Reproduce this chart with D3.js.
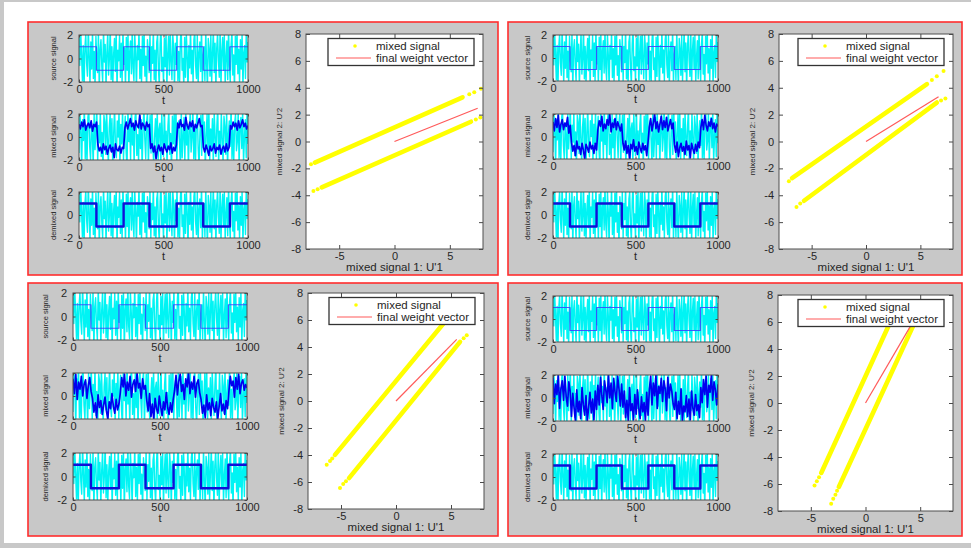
<!DOCTYPE html>
<html>
<head>
<meta charset="utf-8">
<script src="https://cdn.jsdelivr.net/npm/d3@7"></script>
<style>
html, body { margin: 0; padding: 0; background: #fff; }
svg { display: block; }
text { font-family: "Liberation Sans", Arial, Helvetica, sans-serif; fill: #262626; }
</style>
</head>
<body>
<script>
// ---- axis ticks and labels ----
const tTicks = [0, 500, 1000];
const ampTicks = [-2, 0, 2];
const uTicksX = [-5, 0, 5];
const uTicksY = [-8, -6, -4, -2, 0, 2, 4, 6, 8];
const rowLabels = ["source signal", "mixed signal", "demixed signal"];

// ---- square-wave source: switching times and levels ----
const squareEdges = [0, 103, 264, 417, 578, 735, 893];
const squareLevels = [1, -1, 1, -1, 1, -1, 1];

// ---- noise source (cyan), sampled evenly over t = 0..1000 ----
const noiseSource = [
  1.8, -0.6, 2.4, 0.3, -1.9, 1.1, -2.6, 0.9, 2.1, -0.4, -1.5, 2.7, 0.2, -2.2, 1.4, -0.9, 2.5, -1.7, 0.6, -2.4,
  1.9, 0.1, -1.2, 2.3, -2.8, 0.8, 1.6, -0.7, -2.0, 2.6, -0.3, 1.2, -2.5, 0.5, 2.2, -1.4, 0.0, 2.8, -1.8, 1.0,
  -2.3, 0.4, 1.7, -1.1, 2.4, -2.7, 0.7, -0.2, 2.0, -1.6, 1.3, -2.1, 2.6, -0.5, 0.9, -2.4, 1.8, -1.0, 2.3, -2.9,
  0.6, 1.5, -1.3, 2.7, -0.8, -1.9, 2.1, 0.3, -2.6, 1.1, -0.1, 2.5, -1.7, 0.8, -2.2, 1.9, -0.6, 2.4, -1.5, 0.2,
  -2.8, 1.6, 0.5, -1.2, 2.2, -2.0, 1.0, -0.4, 2.6, -1.8, 0.7, -2.5, 1.4, 2.0, -0.9, -2.3, 1.2, 2.8, -1.1, 0.1,
  -2.1, 1.7, -0.7, 2.3, -2.6, 0.4, 1.9, -1.4, 2.5, -0.3, -1.8, 2.1, 0.9, -2.7, 1.3, -0.5, 2.4, -1.9, 0.6, -2.2,
  1.5, 2.7, -1.0, 0.0, -2.4, 1.8, -1.6, 2.2, 0.3, -2.9, 1.1, -0.8, 2.6, -1.3, 0.7, -2.0, 1.6, 2.3, -0.6, -1.7,
  2.0, -2.5, 0.5, 1.4, -1.1, 2.8, -2.3, 0.2, 1.0, -1.9, 2.4, -0.4, -2.6, 1.7, 0.8, -1.5, 2.1, -2.1, 0.4, 2.5,
  -1.2, 1.3, -2.8, 0.9, 2.2, -0.2, -1.6, 2.6, -2.4, 0.6, 1.8, -1.0, 2.0, -2.2, 0.1, 1.5, -1.8, 2.7, -0.7, -2.0,
  1.2, 2.3, -1.4, 0.3, -2.7, 1.9, -0.5, 2.4, -1.3, 0.8, -2.1, 1.6, -0.9, 2.2, -2.5, 0.5, 1.1, -1.7, 2.6, -0.3, 1.4
];

// ---- second mixture channel (cyan in the mixed plots) ----
const noiseMixed = [
  -1.4, 2.2, 0.6, -2.7, 1.5, -0.3, 2.8, -1.9, 0.9, -2.3, 1.7, 2.4, -0.8, -2.0, 1.2, 0.2, -2.6, 2.1, -1.1, 0.7,
  2.6, -2.2, 1.0, -0.5, 2.3, -1.7, 0.4, -2.8, 1.9, 1.3, -1.5, 2.5, -0.1, -2.4, 0.8, 2.0, -1.2, 1.6, -2.9, 0.3,
  2.7, -0.9, -1.8, 1.4, 0.0, 2.2, -2.5, 1.1, -0.6, 2.4, -2.0, 0.5, 1.8, -1.3, -2.7, 2.6, -0.4, 1.0, -2.1, 2.9,
  -0.7, 0.9, -2.4, 1.7, 2.3, -1.6, 0.2, -2.2, 2.0, -1.0, 1.5, -2.8, 0.6, 2.5, -0.2, -1.9, 1.3, 2.1, -2.6, 0.4,
  1.9, -1.4, 2.7, -0.8, -2.3, 0.1, 1.6, -1.1, 2.4, -2.0, 0.7, 1.2, -2.5, 2.2, -0.3, -1.7, 2.8, -0.9, 0.5, -2.4,
  1.0, 2.3, -1.5, 0.3, -2.9, 1.8, -0.6, 2.0, -1.2, 2.6, -2.1, 0.8, 1.4, -0.4, -2.6, 2.4, -1.8, 0.0, 1.7, -2.2,
  2.5, -0.7, 1.1, -2.7, 0.6, 2.1, -1.3, -0.1, 2.8, -1.9, 0.9, -2.3, 1.5, 2.2, -1.0, -2.5, 0.4, 1.9, -1.6, 2.7,
  -0.5, 1.3, -2.8, 0.2, 2.0, -1.4, 2.4, -2.0, 0.7, -0.9, 1.6, -2.6, 2.3, 0.1, -1.7, 1.0, 2.6, -2.4, 0.5, -1.1,
  2.1, -0.3, -2.2, 1.8, 0.9, -1.5, 2.5, -2.7, 0.3, 1.4, -0.8, 2.9, -1.9, 0.6, -2.1, 1.2, 2.0, -1.2, -0.4, 2.3,
  -2.5, 0.8, 1.7, -1.0, 2.4, -2.3, 0.0, 1.5, -1.8, 2.6, -0.6
];

// ---- first mixture channel (blue), one run per experiment ----
const mixedTL = [
  1.1, 0.7, 1.3, 0.9, 1.5, 0.6, 1.0, 1.2, 0.8, 1.4, 0.5, 1.1, 0.9, 1.3,
  -0.7, -1.2, -0.9, -1.4, -0.6, -1.1, -0.8, -1.5, -1.0, -0.7, -1.3, -0.9, -1.8, -0.6, -1.1, -1.2, -0.8, -1.4, -0.9, -1.0,
  0.8, 1.3, 0.7, 1.1, 1.6, 0.9, 1.2, 0.6, 1.4, 1.0, 0.8, 1.9, 0.7, 1.2, 1.0, 0.6, 1.3, 0.9, 1.1,
  -1.0, -0.6, -1.3, -0.8, -1.9, -1.1, -0.7, -1.2, -0.9, -1.5, -0.6, -1.0, -1.3, -0.8, -1.1, -0.5, -1.4, -0.9, -1.2, -0.7,
  1.2, 0.8, 1.5, 0.9, 1.1, 0.6, 1.7, 1.0, 0.7, 1.3, 0.9, 1.4, 0.5, 1.1, 0.8, 1.2, 1.6, 0.9, 1.0,
  -0.9, -1.3, -0.7, -1.1, -1.6, -0.8, -1.2, -1.0, -0.6, -1.4, -0.9, -1.1, -0.7, -1.5, -1.0, -0.8, -1.3, -0.6, -1.2, -0.9,
  1.0, 0.7, 1.3, 0.9, 1.2, 0.6, 1.4, 0.8, 1.1, 1.5, 0.9, 1.2, 0.7, 1.0
];
const mixedTR = [
  1.3, 0.5, 1.6, 0.8, 1.9, 0.4, 1.1, 1.5, 0.6, 1.2, 0.9, 1.7, 0.3, 1.0,
  -0.5, -1.3, -0.8, -1.7, -0.4, -1.1, -0.9, -1.6, -0.6, -1.2, -2.0, -0.7, -1.0, -1.4, -0.5, -1.1, -0.8, -1.5, -0.6, -1.2,
  0.6, 1.4, 0.9, 1.8, 0.5, 1.1, 0.7, 1.5, 1.0, 2.0, 0.4, 1.2, 0.8, 1.6, 0.6, 1.3, 0.9, 0.5, 1.1,
  -0.6, -1.2, -0.4, -1.5, -0.8, -2.0, -0.7, -1.1, -0.3, -1.3, -0.9, -1.6, -0.5, -1.0, -1.4, -0.6, -1.2, -0.8, -1.7, -0.5,
  0.9, 1.6, 0.5, 1.2, 2.0, 0.7, 1.3, 0.4, 1.1, 1.8, 0.6, 1.4, 0.8, 1.7, 0.5, 1.0, 1.5, 0.7, 1.2,
  -0.7, -1.4, -0.5, -1.8, -1.0, -0.6, -1.3, -0.9, -1.6, -0.4, -1.2, -0.8, -1.9, -0.6, -1.1, -1.5, -0.7, -1.3, -0.5, -1.0,
  0.8, 1.5, 0.6, 1.9, 1.0, 0.5, 1.3, 0.9, 1.6, 0.7, 1.2, 0.4, 1.1, 0.9
];
const mixedBL = [
  1.5, 0.2, 1.9, -0.3, 1.2, 0.6, 1.7, 0.0, 1.0, 1.4, -0.2, 0.9, 1.6, 0.4,
  -0.2, -1.4, -0.6, -1.9, 0.1, -1.0, -0.4, -1.6, -0.8, -0.1, -1.3, -2.0, -0.5, -1.1, 0.2, -0.9, -1.5, -0.3, -1.2, -0.7,
  0.3, 1.6, 0.8, 1.9, 0.0, 1.2, 0.5, 1.7, -0.1, 1.0, 1.4, 0.4, 2.0, 0.7, 1.1, -0.2, 1.5, 0.6, 0.9,
  -0.4, -1.3, 0.2, -1.8, -0.7, -2.0, -0.2, -1.1, -1.5, 0.0, -0.9, -1.7, -0.5, -1.2, 0.3, -1.0, -1.6, -0.6, -1.4, -0.3,
  0.5, 1.8, 0.1, 1.3, 1.9, 0.4, 1.0, -0.3, 1.5, 0.8, 2.0, 0.2, 1.2, 0.6, 1.7, -0.1, 1.1, 1.4, 0.3,
  -0.3, -1.5, -0.8, -1.9, 0.1, -1.2, -0.6, -1.7, -0.2, -1.0, -1.4, -0.5, -2.0, -0.9, 0.2, -1.3, -0.7, -1.6, -0.4, -1.1,
  0.4, 1.7, 0.9, 1.3, -0.1, 1.6, 0.6, 1.9, 0.2, 1.1, 1.4, 0.5, 1.0, 0.7
];
const mixedBR = [
  1.8, -0.5, 1.2, 0.3, 2.0, -0.9, 0.8, 1.5, -0.2, 1.9, 0.1, -0.7, 1.4, 0.6,
  -1.6, 0.4, -0.9, -2.0, 0.7, -1.2, -0.3, -1.8, 0.9, -0.6, -1.5, 0.2, -2.0, -0.8, 0.5, -1.3, -0.1, -1.9, 0.6, -1.0,
  1.1, -0.6, 1.8, 0.2, -1.0, 1.5, 0.7, -0.4, 2.0, 0.0, 1.3, -0.9, 1.7, 0.5, -0.3, 1.9, 0.8, -0.7, 1.2,
  -0.8, 0.6, -1.7, -0.2, -2.0, 0.9, -1.1, -0.5, -1.9, 0.3, -1.4, 0.7, -0.9, -1.8, 0.1, -1.2, -0.4, -2.0, 0.5, -1.5,
  0.7, 1.9, -0.6, 1.3, 0.2, 2.0, -0.9, 1.0, 0.4, 1.7, -0.3, 1.5, 0.8, -1.1, 1.8, 0.0, 1.2, 0.6, -0.5,
  -1.0, 0.5, -1.8, -0.3, -1.4, 0.8, -2.0, -0.7, -1.2, 0.2, -1.6, -0.1, -1.9, 0.6, -0.9, -1.5, 0.3, -1.1, -0.6, -1.7,
  0.9, -0.4, 1.6, 0.3, 1.9, -0.8, 1.1, 0.5, 2.0, -0.2, 1.4, 0.7, -0.6, 1.2
];

// ---- scatter of (U'1, U'2): dense point bands [x0, y0, x1, y1], loose points [x, y],
//      and the end of the final weight vector [x, y] ----
const bandsTL = [[-7.2, -1.57, 6.15, 3.29], [-6.58, -3.41, 6.91, 1.47]];
const dotsTL = [[-7.55, -1.70], [-7.33, -3.68], [-6.95, -3.55], [6.76, 3.51], [7.21, 3.67], [7.82, 3.92], [7.35, 1.63], [7.76, 1.78]];
const weightTL = [7.52, 2.47];

const bandsTR = [[-6.8, -2.73, 5.6, 4.27], [-5.7, -4.41, 6.51, 2.9]];
const dotsTR = [[-7.09, -2.95], [-6.39, -4.88], [-6.05, -4.62], [6.06, 4.57], [6.51, 4.85], [7.13, 5.25], [6.9, 3.05], [7.3, 3.2]];
const weightTR = [6.67, 3.33];

const bandsBL = [[-5.55, -3.99, 5.8, 7.2], [-4.27, -5.71, 5.82, 4.38]];
const dotsBL = [[-6.3, -4.73], [-6.0, -4.45], [-5.8, -4.25], [-5.09, -6.45], [-4.8, -6.15], [-4.55, -5.95], [6.15, 4.65], [6.43, 4.87]];
const weightBL = [5.52, 4.56];

const bandsBR = [[-4.05, -5.18, 3.0, 7.3], [-2.44, -6.22, 5.2, 7.2]];
const dotsBR = [[-4.66, -6.12], [-4.45, -5.8], [-4.25, -5.5], [-3.14, -7.46], [-2.95, -7.1], [-2.75, -6.8], [-2.6, -6.5]];
const weightBR = [4.3, 5.95];

// ---- page layout ----
const svg = d3.select("body").append("svg").attr("width", 971).attr("height", 548);
svg.append("rect").attr("width", 971).attr("height", 548).attr("fill", "#fff");
svg.append("rect").attr("x", 0).attr("y", 0).attr("width", 4).attr("height", 548).attr("fill", "#c8c8c8");
svg.append("rect").attr("x", 0).attr("y", 0).attr("width", 971).attr("height", 2).attr("fill", "#c8c8c8");
svg.append("rect").attr("x", 0).attr("y", 543).attr("width", 971).attr("height", 5).attr("fill", "#c8c8c8");
const defs = svg.append("defs");

const panels = [
  { frame: [28, 22, 470, 253], tsX: [79, 248], tsRows: [[35, 82], [114, 160], [192, 238]], labelDx: 26,
    sc: [306, 483, 34, 249], mixed: mixedTL, bands: bandsTL, dots: dotsTL, weight: weightTL },
  { frame: [508, 22, 454, 253], tsX: [553, 718], tsRows: [[35, 81], [114, 159], [192, 238]], labelDx: 26,
    sc: [779, 953, 34, 249], mixed: mixedTR, bands: bandsTR, dots: dotsTR, weight: weightTR },
  { frame: [28, 283, 470, 253], tsX: [73, 247], tsRows: [[293, 340], [373, 419], [453, 500]], labelDx: 28,
    sc: [308, 484, 293, 509], mixed: mixedBL, bands: bandsBL, dots: dotsBL, weight: weightBL },
  { frame: [508, 283, 454, 253], tsX: [553, 718], tsRows: [[296, 342], [375, 421], [454, 500]], labelDx: 26,
    sc: [778, 953, 295, 511], mixed: mixedBR, bands: bandsBR, dots: dotsBR, weight: weightBR }
];

const plainNumber = d => String(d);

let clipCount = 0;
function clipRect(x, y, w, h) {
  const id = "plotclip" + (clipCount++);
  defs.append("clipPath").attr("id", id).append("rect")
    .attr("x", x).attr("y", y).attr("width", w).attr("height", h);
  return "url(#" + id + ")";
}

function timeSeries(values) {
  const n = values.length;
  return values.map((v, i) => [i * 1000 / (n - 1), v]);
}
const squareSeries = squareEdges.map((t, i) => [t, squareLevels[i]])
  .concat([[1000, squareLevels[squareLevels.length - 1]]]);

function styleAxis(sel, size) {
  sel.select(".domain").remove();
  sel.attr("font-size", size).attr("color", "#4a4a4a");
  sel.selectAll(".tick line").attr("stroke-width", 1);
}

function timePlot(g, x0, x1, y0, y1, label, layers, labelDx) {
  const x = d3.scaleLinear().domain([0, 1000]).range([x0, x1]);
  const y = d3.scaleLinear().domain([-2, 2]).range([y1, y0]);
  g.append("rect").attr("x", x0).attr("y", y0).attr("width", x1 - x0).attr("height", y1 - y0).attr("fill", "#fff");
  const body = g.append("g").attr("clip-path", clipRect(x0, y0, x1 - x0, y1 - y0));
  layers.forEach(L => {
    const line = d3.line().x(d => x(d[0])).y(d => y(d[1]));
    if (L.step) line.curve(d3.curveStepAfter);
    body.append("path").attr("d", line(L.points)).attr("fill", "none")
      .attr("stroke", L.color).attr("stroke-width", L.width)
      .attr("stroke-opacity", L.opacity || 1).attr("stroke-linejoin", "round");
  });
  g.append("rect").attr("x", x0).attr("y", y0).attr("width", x1 - x0).attr("height", y1 - y0)
    .attr("fill", "none").attr("stroke", "#4f4f4f").attr("stroke-width", 1);
  g.append("g").attr("transform", `translate(0,${y1})`)
    .call(d3.axisBottom(x).tickValues(tTicks).tickFormat(plainNumber).tickSizeInner(-2.5).tickSizeOuter(0).tickPadding(3))
    .call(s => styleAxis(s, 11));
  g.append("g").attr("transform", `translate(0,${y0})`)
    .call(d3.axisTop(x).tickValues(tTicks).tickSizeInner(-2.5).tickSizeOuter(0).tickFormat(""))
    .call(s => styleAxis(s, 11));
  g.append("g").attr("transform", `translate(${x0},0)`)
    .call(d3.axisLeft(y).tickValues(ampTicks).tickFormat(plainNumber).tickSizeInner(-2.5).tickSizeOuter(0).tickPadding(6))
    .call(s => styleAxis(s, 11));
  g.append("g").attr("transform", `translate(${x1},0)`)
    .call(d3.axisRight(y).tickValues(ampTicks).tickSizeInner(-2.5).tickSizeOuter(0).tickFormat(""))
    .call(s => styleAxis(s, 11));
  g.append("text").attr("x", (x0 + x1) / 2).attr("y", y1 + 21.5).attr("text-anchor", "middle")
    .attr("font-size", 11).text("t");
  g.append("text").attr("transform", `translate(${x0 - labelDx},${(y0 + y1) / 2}) rotate(-90)`)
    .attr("text-anchor", "middle").attr("dy", "0.35em").attr("font-size", 7.5).text(label);
}

function scatterPlot(g, P) {
  const [x0, x1, y0, y1] = P.sc;
  const x = d3.scaleLinear().domain([-8, 8]).range([x0, x1]);
  const y = d3.scaleLinear().domain([-8, 8]).range([y1, y0]);
  g.append("rect").attr("x", x0).attr("y", y0).attr("width", x1 - x0).attr("height", y1 - y0).attr("fill", "#fff");
  const body = g.append("g").attr("clip-path", clipRect(x0, y0, x1 - x0, y1 - y0));
  const seg = d3.line().x(d => x(d[0])).y(d => y(d[1]));
  P.bands.forEach(b => {
    body.append("path").attr("d", seg([[b[0], b[1]], [b[2], b[3]]]))
      .attr("fill", "none").attr("stroke", "#ffff00").attr("stroke-width", 4.6).attr("stroke-linecap", "round");
  });
  body.selectAll("circle.pt").data(P.dots).join("circle").attr("class", "pt")
    .attr("cx", d => x(d[0])).attr("cy", d => y(d[1])).attr("r", 2).attr("fill", "#ffff00");
  body.append("path").attr("d", seg([[0, 0], P.weight]))
    .attr("fill", "none").attr("stroke", "#ff5a5a").attr("stroke-width", 1.2);

  g.append("rect").attr("x", x0).attr("y", y0).attr("width", x1 - x0).attr("height", y1 - y0)
    .attr("fill", "none").attr("stroke", "#4f4f4f").attr("stroke-width", 1);
  g.append("g").attr("transform", `translate(0,${y1})`)
    .call(d3.axisBottom(x).tickValues(uTicksX).tickFormat(plainNumber).tickSizeInner(-4).tickSizeOuter(0).tickPadding(3))
    .call(s => styleAxis(s, 11));
  g.append("g").attr("transform", `translate(0,${y0})`)
    .call(d3.axisTop(x).tickValues(uTicksX).tickSizeInner(-4).tickSizeOuter(0).tickFormat(""))
    .call(s => styleAxis(s, 11));
  g.append("g").attr("transform", `translate(${x0},0)`)
    .call(d3.axisLeft(y).tickValues(uTicksY).tickFormat(plainNumber).tickSizeInner(-4).tickSizeOuter(0).tickPadding(5))
    .call(s => styleAxis(s, 11));
  g.append("g").attr("transform", `translate(${x1},0)`)
    .call(d3.axisRight(y).tickValues(uTicksY).tickSizeInner(-4).tickSizeOuter(0).tickFormat(""))
    .call(s => styleAxis(s, 11));

  g.append("text").attr("x", (x0 + x1) / 2).attr("y", y1 + 21.5).attr("text-anchor", "middle")
    .attr("font-size", 11.5).text("mixed signal 1: U'1");
  g.append("text").attr("transform", `translate(${x0 - 27},${(y0 + y1) / 2}) rotate(-90)`)
    .attr("text-anchor", "middle").attr("dy", "0.35em").attr("font-size", 8).text("mixed signal 2: U'2");

  // legend
  const lw = 146, lh = 27, lx = x1 - 9 - lw, ly = y0 + 4.5;
  g.append("rect").attr("x", lx).attr("y", ly).attr("width", lw).attr("height", lh)
    .attr("fill", "#fff").attr("stroke", "#333").attr("stroke-width", 1.3);
  g.append("circle").attr("cx", lx + 27).attr("cy", ly + 7.5).attr("r", 1.8).attr("fill", "#ffff00");
  g.append("text").attr("x", lx + 48).attr("y", ly + 11).attr("font-size", 11.5).text("mixed signal");
  g.append("line").attr("x1", lx + 8).attr("x2", lx + 43).attr("y1", ly + 19.5).attr("y2", ly + 19.5)
    .attr("stroke", "#ff5a5a").attr("stroke-width", 1.2);
  g.append("text").attr("x", lx + 48).attr("y", ly + 23.5).attr("font-size", 11.5).text("final weight vector");
}

panels.forEach(P => {
  const g = svg.append("g");
  const [fx, fy, fw, fh] = P.frame;
  g.append("rect").attr("x", fx).attr("y", fy).attr("width", fw).attr("height", fh)
    .attr("fill", "#c8c8c8").attr("stroke", "#ff2d2d").attr("stroke-width", 1.6);

  const [tx0, tx1] = P.tsX;
  const rowsLayers = [
    [ { points: timeSeries(noiseSource), color: "#00f4f4", width: 1.4 },
      { points: squareSeries, step: true, color: "#3c3cff", width: 1.2, opacity: 0.85 } ],
    [ { points: timeSeries(noiseMixed), color: "#00f4f4", width: 1.4 },
      { points: timeSeries(P.mixed), color: "#0000f0", width: 1.7 } ],
    [ { points: timeSeries(noiseSource), color: "#00f4f4", width: 1.4 },
      { points: squareSeries, step: true, color: "#1010d8", width: 2.4 } ]
  ];
  P.tsRows.forEach((r, i) => timePlot(g, tx0, tx1, r[0], r[1], rowLabels[i], rowsLayers[i], P.labelDx));
  scatterPlot(g, P);
});
</script>
</body>
</html>
